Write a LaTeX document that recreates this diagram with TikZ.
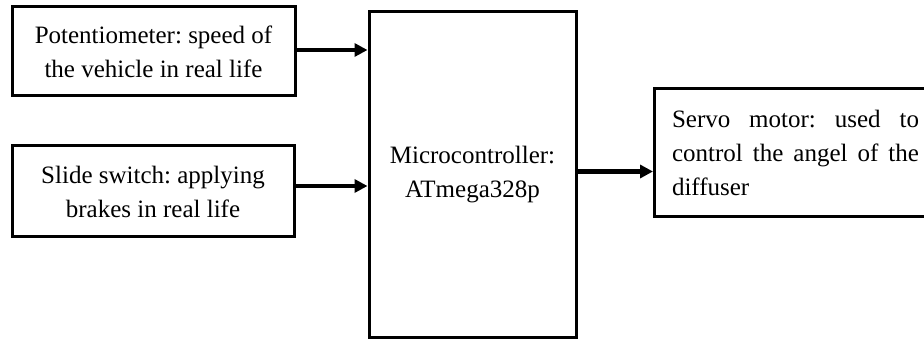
\documentclass[tikz,border=0pt]{standalone}
\usepackage{fontspec}
\setmainfont{Liberation Serif}
\usetikzlibrary{arrows.meta}
\frenchspacing
\begin{document}
\begin{tikzpicture}[x=1pt,y=-1pt,
  blk/.style={draw,line width=3pt,inner sep=0pt,font=\fontsize{25pt}{34pt}\selectfont,align=center},
  conn/.style={line width=4.2pt,-{Triangle[length=13pt,width=13pt]}}]
\useasboundingbox (0,0) rectangle (924,339);
\node[blk,minimum width=283pt,minimum height=89pt] (pot) at (153.5,51.5)
  {Potentiometer: speed of\\the vehicle in real life};
\node[blk,minimum width=282pt,minimum height=91pt] (sw) at (153,191.5)
  {Slide switch: applying\\brakes in real life};
\node[blk,minimum width=207pt,minimum height=325pt] (mcu) at (472.5,174.5)
  {Microcontroller:\\ATmega328p};
\node[blk,minimum width=282pt,minimum height=128pt,align=left,anchor=west] (servo) at (653,153)
  {\makebox[247pt][s]{Servo motor: used to}\\\makebox[247pt][s]{control the angel of the}\\diffuser};
\draw[conn] ([yshift=1.5pt]pot.east) -- ([yshift=1.5pt]pot.east -| mcu.west);
\draw[conn] ([yshift=5.5pt]sw.east) -- ([yshift=5.5pt]sw.east -| mcu.west);
\draw[conn] ([yshift=3pt]mcu.east) -- ([yshift=3pt]mcu.east -| servo.west);
\end{tikzpicture}
\end{document}
